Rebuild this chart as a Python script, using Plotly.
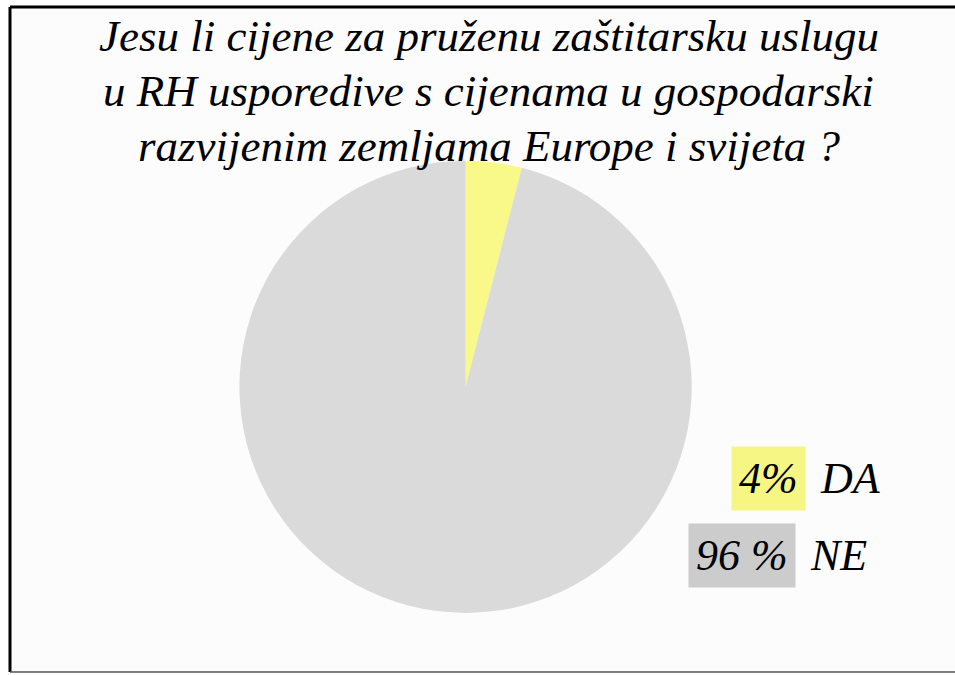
import plotly.graph_objects as go

labels = ["DA", "NE"]
values = [4, 96]
colors = ["#f9f98a", "#dadada"]
legend_nums = ["4%", "96 %"]
legend_words = ["DA", "NE"]
legend_blob = ["rgba(245,245,110,0.85)", "rgba(195,195,195,0.85)"]
title_lines = [
    "Jesu li cijene za pruženu zaštitarsku uslugu",
    "u RH usporedive s cijenama u gospodarski",
    "razvijenim zemljama Europe i svijeta ?",
]

fig = go.Figure()
fig.add_trace(go.Pie(
    labels=labels, values=values, sort=False, direction="clockwise", rotation=0,
    marker=dict(colors=colors, line=dict(width=0)),
    textinfo="none", hoverinfo="label+percent", showlegend=False,
    domain=dict(x=[0.25, 0.725], y=[0.092, 0.762]),
))

TF = dict(family="Liberation Serif", size=45, color="black", style="italic")
for i, line in enumerate(title_lines):
    fig.add_annotation(text=line, xref="paper", yref="paper", x=0.512, y=1 - (36 + 55 * i) / 675,
                       xanchor="center", yanchor="middle", showarrow=False, font=TF)

LF = dict(family="Liberation Serif", size=44, color="black", style="italic")
rows_y = [478, 555]
num_right = [806, 796]
for i in range(2):
    y = 1 - rows_y[i] / 675
    fig.add_annotation(text=legend_nums[i], xref="paper", yref="paper", x=num_right[i] / 955, y=y,
                       xanchor="right", yanchor="middle", showarrow=False, font=LF,
                       bgcolor=legend_blob[i], borderpad=7)
    fig.add_annotation(text=legend_words[i], xref="paper", yref="paper", x=(num_right[i] + 12) / 955, y=y,
                       xanchor="left", yanchor="middle", showarrow=False, font=LF)

# frame: light panel, thick black top/left edges, thin grey bottom edge
fig.add_shape(type="rect", xref="paper", yref="paper", x0=10 / 955, x1=1.05, y0=1 - 672 / 675, y1=1 - 7 / 675,
              line=dict(width=0), fillcolor="#fcfcfc", layer="below")
fig.add_shape(type="line", xref="paper", yref="paper", x0=10 / 955, x1=1.05, y0=1 - 7 / 675, y1=1 - 7 / 675,
              line=dict(color="black", width=3))
fig.add_shape(type="line", xref="paper", yref="paper", x0=10 / 955, x1=10 / 955, y0=1 - 672 / 675, y1=1 - 7 / 675,
              line=dict(color="black", width=3))
fig.add_shape(type="line", xref="paper", yref="paper", x0=10 / 955, x1=1.05, y0=1 - 672 / 675, y1=1 - 672 / 675,
              line=dict(color="#555555", width=1.5))

fig.update_layout(width=955, height=675, margin=dict(l=0, r=0, t=0, b=0),
                  paper_bgcolor="white", plot_bgcolor="white")
fig.write_html("out.html", config={"displayModeBar": False},
               post_script="document.body.style.margin='0';document.body.style.overflow='hidden';")
